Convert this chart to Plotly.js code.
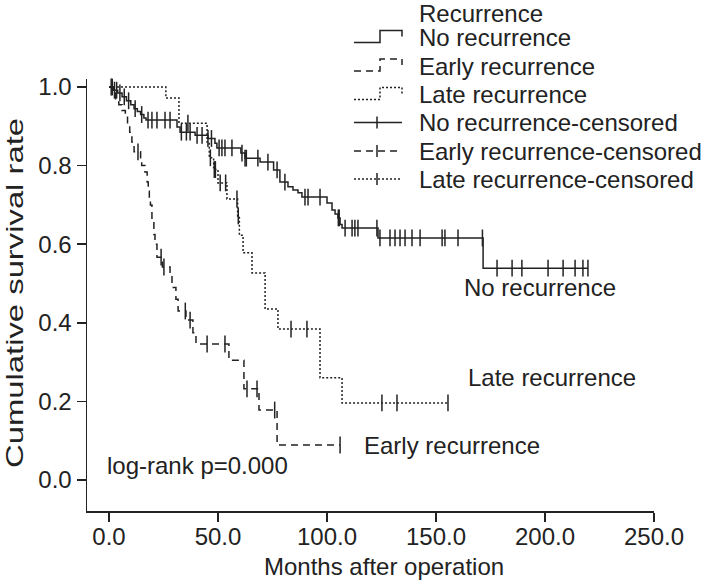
<!DOCTYPE html>
<html><head><meta charset="utf-8">
<script src="https://cdn.plot.ly/plotly-3.0.1.min.js"></script>
<style>html,body{margin:0;padding:0;background:#fff}#chart{width:708px;height:580px}</style>
</head><body><div id="chart"></div>
<script>
// ---- data (months, cumulative survival) ----
const groupNames = ["No recurrence", "Early recurrence", "Late recurrence"];

const noRecTime = [0, 2.0, 4.0, 6.0, 8.0, 10.0, 11.5, 13.0, 14.5, 16.0, 17.0, 31.2, 32.6, 39.5, 45.4, 48.6, 49.5, 60.5, 62.4, 69.3, 75.5, 78.4, 82.1, 84.4, 86.7, 88.5, 100.0, 102.3, 103.7, 105.0, 106.0, 106.9, 123.4, 171.6];
const noRecSurv = [1.0, 0.992, 0.985, 0.975, 0.965, 0.955, 0.945, 0.938, 0.93, 0.921, 0.916, 0.898, 0.885, 0.877, 0.869, 0.857, 0.845, 0.832, 0.819, 0.809, 0.789, 0.758, 0.746, 0.738, 0.731, 0.72, 0.705, 0.687, 0.677, 0.667, 0.65, 0.641, 0.616, 0.539];
const noRecEnd = 219.7;
const noRecCensored = [1.5, 2.5, 3.5, 5.0, 7.0, 9.0, 12.0, 15.0, 17.9, 19.7, 22.0, 25.7, 28.0, 33.2, 35.5, 37.2, 40.4, 42.7, 45.4, 47.0, 50.5, 51.8, 53.2, 56.4, 61.0, 62.4, 63.0, 68.3, 72.9, 77.1, 80.7, 89.9, 91.3, 96.8, 105.2, 105.6, 108.3, 111.5, 112.8, 114.2, 122.9, 124.3, 128.9, 131.2, 133.5, 135.8, 139.0, 142.7, 152.8, 154.1, 160.1, 171.3, 178.0, 184.9, 189.4, 201.4, 208.3, 213.8, 217.4, 219.7];

const earlyTime = [0, 1.5, 3.0, 4.5, 6.0, 7.5, 8.5, 9.5, 10.5, 11.5, 14.5, 15.0, 16.5, 17.5, 18.0, 18.5, 19.0, 19.7, 20.6, 21.1, 22.0, 24.5, 28.0, 28.9, 30.7, 31.7, 35.3, 38.5, 39.9, 55.0, 61.9, 68.8, 77.1];
const earlySurv = [1.0, 0.985, 0.97, 0.955, 0.94, 0.925, 0.905, 0.885, 0.86, 0.835, 0.82, 0.80, 0.784, 0.758, 0.735, 0.718, 0.70, 0.66, 0.625, 0.60, 0.567, 0.542, 0.52, 0.49, 0.46, 0.43, 0.407, 0.375, 0.346, 0.305, 0.232, 0.178, 0.089];
const earlyEnd = 106.0;
const earlyCensored = [1.0, 13.3, 23.9, 25.2, 35.0, 37.2, 45.0, 53.2, 63.3, 67.9, 76.0, 106.0];

const lateTime = [0, 26.1, 32.1, 45.0, 46.0, 48.0, 50.0, 54.1, 59.0, 59.8, 61.5, 65.6, 71.6, 77.5, 96.8, 106.9];
const lateSurv = [1.0, 0.972, 0.908, 0.86, 0.82, 0.79, 0.756, 0.715, 0.672, 0.623, 0.578, 0.527, 0.435, 0.384, 0.26, 0.196];
const lateEnd = 155.5;
const lateCensored = [36.2, 46.5, 48.3, 48.8, 51.0, 53.5, 58.7, 59.3, 83.5, 90.8, 125.2, 132.1, 155.5];

const xTicks = [0, 50, 100, 150, 200, 250];
const xTickText = ["0.0", "50.0", "100.0", "150.0", "200.0", "250.0"];
const yTicks = [0, 0.2, 0.4, 0.6, 0.8, 1.0];
const yTickText = ["0.0", "0.2", "0.4", "0.6", "0.8", "1.0"];

// ---- styling ----
const INK = "#222222";
const FONT = "Liberation Sans, Arial, sans-serif";
const FS = 24;
const dashes = ["solid", "7px,5px", "2px,2px"];

function survAt(times, surv, t) {
  let s = surv[0];
  for (let i = 0; i < times.length; i++) if (times[i] <= t) s = surv[i];
  return s;
}

const sets = [
  [noRecTime, noRecSurv, noRecEnd, noRecCensored],
  [earlyTime, earlySurv, earlyEnd, earlyCensored],
  [lateTime, lateSurv, lateEnd, lateCensored]
];

const traces = [];
sets.forEach((s, i) => {
  const [t, v, end, cens] = s;
  traces.push({
    type: "scatter", mode: "lines", name: groupNames[i],
    x: t.concat([end]), y: v.concat([v[v.length - 1]]),
    line: {shape: "hv", color: INK, width: 1.5, dash: dashes[i]},
    showlegend: false, hoverinfo: "skip"
  });
});
sets.forEach((s, i) => {
  const [t, v, end, cens] = s;
  traces.push({
    type: "scatter", mode: "markers", name: groupNames[i] + "-censored",
    x: cens, y: cens.map(c => survAt(t, v, c)),
    marker: {symbol: "line-ns-open", size: 12, color: INK, line: {color: INK, width: 1.5}},
    showlegend: false, hoverinfo: "skip", cliponaxis: false
  });
});

// ---- pixel helpers for the hand-built legend ----
const L = 87, R = 654, T = 79, B = 511;
const px = v => (v - L) / (R - L);
const py = v => (B - v) / (B - T);

const shapes = [];
const annotations = [];
const rowC = [37.5, 66, 94.5, 122.5, 151, 179];
annotations.push({xref: "paper", yref: "paper", x: px(417), y: py(13), xanchor: "left", yanchor: "middle",
  text: "Recurrence", showarrow: false, font: {family: FONT, size: FS, color: INK}});
for (let i = 0; i < 3; i++) {
  const c = rowC[i];
  shapes.push({type: "path", xref: "paper", yref: "paper",
    path: `M${px(354)},${py(c + 5)} L${px(380)},${py(c + 5)} L${px(380)},${py(c - 7)} L${px(402)},${py(c - 7)} L${px(402)},${py(c - 1)}`,
    line: {color: INK, width: 1.5, dash: dashes[i]}});
  annotations.push({xref: "paper", yref: "paper", x: px(417), y: py(c), xanchor: "left", yanchor: "middle",
    text: groupNames[i], showarrow: false, font: {family: FONT, size: FS, color: INK}});
}
for (let i = 0; i < 3; i++) {
  const c = rowC[i + 3];
  shapes.push({type: "line", xref: "paper", yref: "paper", x0: px(354), x1: px(402), y0: py(c), y1: py(c),
    line: {color: INK, width: 1.5, dash: dashes[i]}});
  shapes.push({type: "line", xref: "paper", yref: "paper", x0: px(377), x1: px(377), y0: py(c - 6), y1: py(c + 6),
    line: {color: INK, width: 1.5}});
  annotations.push({xref: "paper", yref: "paper", x: px(417), y: py(c), xanchor: "left", yanchor: "middle",
    text: groupNames[i] + "-censored", showarrow: false, font: {family: FONT, size: FS, color: INK}});
}

// curve labels and log-rank note (data coordinates)
annotations.push({x: 161.9, y: 0.491, xanchor: "left", yanchor: "middle", text: "No recurrence", showarrow: false, font: {family: FONT, size: FS, color: INK}});
annotations.push({x: 163.8, y: 0.262, xanchor: "left", yanchor: "middle", text: "Late recurrence", showarrow: false, font: {family: FONT, size: FS, color: INK}});
annotations.push({x: 116.1, y: 0.089, xanchor: "left", yanchor: "middle", text: "Early recurrence", showarrow: false, font: {family: FONT, size: FS, color: INK}});
annotations.push({x: -1.8, y: 0.036, xanchor: "left", yanchor: "middle", text: "log-rank p=0.000", showarrow: false, font: {family: FONT, size: FS, color: INK}});

// axis titles
annotations.push({xref: "paper", yref: "paper", x: px(384), y: py(566), xanchor: "center", yanchor: "middle",
  text: "Months after operation", showarrow: false, font: {family: FONT, size: FS, color: INK}});
annotations.push({xref: "paper", yref: "paper", x: px(14), y: py(293), xanchor: "center", yanchor: "middle", textangle: -90,
  text: "Cumulative survival rate", showarrow: false, font: {family: FONT, size: FS, color: INK}});

const axisCommon = {
  showgrid: false, zeroline: false, showline: true, linecolor: INK, linewidth: 1.5,
  ticks: "outside", ticklen: 9, tickwidth: 1.5, tickcolor: INK,
  tickfont: {family: FONT, size: FS, color: INK}, fixedrange: true
};

const layout = {
  width: 708, height: 580,
  margin: {l: L, r: 708 - R, t: T, b: 580 - B},
  paper_bgcolor: "#ffffff", plot_bgcolor: "#ffffff",
  showlegend: false,
  xaxis: Object.assign({}, axisCommon, {range: [-10.09, 250], tickvals: xTicks, ticktext: xTickText, ticklabelstandoff: -5}),
  yaxis: Object.assign({}, axisCommon, {range: [-0.0789, 1.0204], tickvals: yTicks, ticktext: yTickText}),
  shapes: shapes,
  annotations: annotations
};

Plotly.newPlot("chart", traces, layout, {displayModeBar: false, staticPlot: true}).then(gd => {
  // the reference's vertical axis title is drawn longer than its glyph size implies
  gd.querySelectorAll(".annotation-text").forEach(el => {
    if (el.textContent === "Cumulative survival rate") {
      el.setAttribute("textLength", "350");
      el.setAttribute("lengthAdjust", "spacingAndGlyphs");
    }
  });
});
</script>
</body></html>
